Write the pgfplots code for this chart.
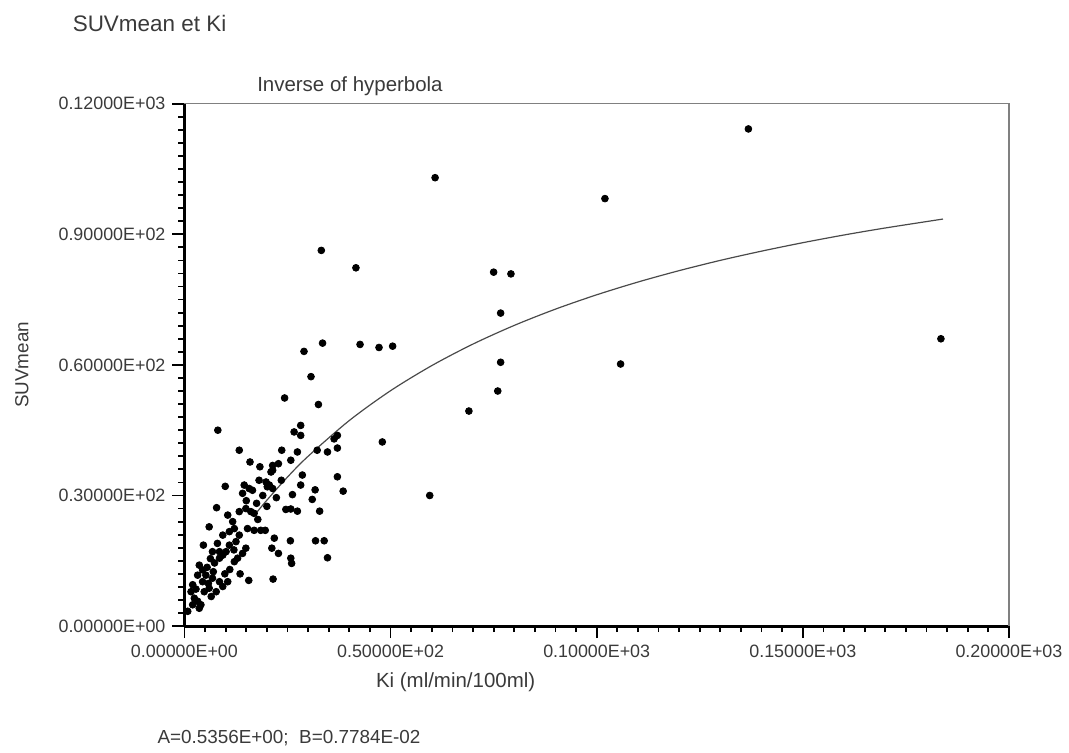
\documentclass[border=0pt]{standalone}
\usepackage{pgfplots}
\pgfplotsset{compat=1.18}
\usepackage{fontspec}
\setmainfont{Liberation Sans}
\definecolor{txt}{HTML}{3A3A3A}
\definecolor{fitline}{HTML}{4A4A4A}

\begin{document}
\begin{tikzpicture}
\begin{axis}[
  scale only axis, width=413.5bp, height=262bp,
  xmin=0, xmax=200, ymin=0, ymax=120,
  axis x line=bottom, axis y line=left,
  axis line style={-, line width=1.4bp, black},
  tick align=outside, xtick pos=left, ytick pos=left,
  major tick length=6bp, minor tick length=3bp,
  every tick/.style={black, line width=0.9bp},
  xtick={0,50,100,150,200},
  xticklabels={0.00000E+00,0.50000E+02,0.10000E+03,0.15000E+03,0.20000E+03},
  ytick={0,30,60,90,120},
  yticklabels={0.00000E+00,0.30000E+02,0.60000E+02,0.90000E+02,0.12000E+03},
  minor x tick num=9, minor y tick num=9,
  ticklabel style={font=\fontsize{9}{10}\selectfont, text=txt},
  xlabel={Ki (ml/min/100ml)},
  ylabel={SUVmean},
  xlabel style={font=\fontsize{10.3}{12}\selectfont, text=txt, at={(rel axis cs:0,0)}, anchor=center, xshift=136bp, yshift=-28bp},
  ylabel style={font=\fontsize{9.5}{11}\selectfont, text=txt, at={([xshift=-81.5bp]rel axis cs:0,0.5)}, anchor=center},
  clip=false,
]
% fitted curve (inverse of hyperbola)
\addplot[fitline, line width=0.6bp, smooth] coordinates {
  (17,25.5) (20,28.93) (25,34.24) (30,39.01) (40,47.23) (50,54.07)
  (60,59.84) (70,64.79) (80,69.07) (90,72.81) (100,76.10) (110,79.03)
  (120,81.65) (130,84.01) (140,86.13) (150,88.07) (160,89.84)
  (170,91.45) (184,93.50)
};
% measured points
\addplot[only marks, mark=*, mark size=1.7bp, black] coordinates {
  (136.8,114.2) (60.8,103.0) (102.0,98.2) (33.2,86.3) (41.6,82.3)
  (75.0,81.3) (79.2,80.9) (76.7,71.9) (76.7,60.6) (76.0,54.0)
  (105.8,60.2) (183.5,66.0) (69.0,49.4) (59.5,30.0) (33.5,65.0)
  (29.0,63.1) (42.6,64.7) (47.2,64.0) (50.5,64.3) (30.7,57.3)
  (32.5,50.9) (48.0,42.3) (24.3,52.4) (8.1,45.0)
  (26.6,44.6) (28.2,46.1) (28.2,43.8) (37.1,43.8) (36.3,43.0)
  (37.1,40.9) (32.2,40.4) (34.7,40.0) (27.4,40.0) (25.8,38.1)
  (23.6,40.4) (13.3,40.4) (28.6,34.7) (37.1,34.3) (28.2,32.4)
  (31.7,31.3) (38.5,31.0) (26.2,30.2) (31.0,29.1) (25.8,26.9)
  (27.4,26.4) (32.8,26.4) (24.6,26.8) (25.7,19.6) (31.8,19.6)
  (33.9,19.6) (34.7,15.7) (25.8,15.6) (26.0,14.4) (21.8,20.2)
  (22.8,16.7) (21.2,17.9) (21.5,10.8) (15.6,10.5)
  (15.9,37.7) (18.3,36.6) (21.4,36.9) (21.4,35.8) (22.8,37.3)
  (21.0,35.4) (9.9,32.1) (14.5,32.4) (15.7,31.6) (16.5,31.2)
  (14.1,30.5) (18.1,33.5) (19.8,33.1) (20.6,32.4) (21.4,31.6)
  (20.1,32.0) (22.3,29.5) (17.5,28.2) (7.8,27.2) (13.3,26.3)
  (14.9,27.0) (16.1,26.3) (16.9,25.9) (11.7,24.0) (12.1,22.4)
  (10.9,21.7) (9.3,20.9) (6.0,22.8) (15.3,22.4) (16.9,22.0)
  (18.5,22.0) (19.6,22.0) (13.3,20.9) (12.5,19.4) (10.9,18.6)
  (10.1,17.1) (4.6,18.6) (8.5,17.1) (6.8,17.1) (14.9,17.9)
  (14.1,16.7) (12.9,15.6) (12.1,14.8) (9.3,16.3) (8.5,15.6)
  (7.3,14.5) (3.6,14.0) (4.4,12.9) (5.2,11.7) (3.2,11.7)
  (6.8,11.0) (8.5,10.2) (9.3,9.1) (10.5,10.2) (6.0,8.7)
  (7.7,7.9) (6.5,6.8) (2.0,9.5) (1.6,7.9) (2.4,6.4)
  (3.2,5.7) (3.6,4.1) (2.0,4.9) (0.8,3.4) (4.4,10.2)
  (4.8,7.9) (4.0,4.9) (5.5,13.5) (7.0,12.5) (11.0,13.0)
  (13.5,12.0) (2.8,8.5) (5.8,9.8) (9.8,12.0) (12.0,17.5)
  (17.8,24.5) (20.0,27.5) (23.5,33.5) (19.0,30.0) (10.5,25.5)
  (15.0,28.8) (8.0,19.0) (6.3,15.5)
};
% thin frame on top and right
\draw[gray, line width=0.6bp] (rel axis cs:0,1) -- (rel axis cs:1,1) -- (rel axis cs:1,0);
\node[anchor=west, font=\fontsize{10.3}{12}\selectfont, text=txt] at ([xshift=33bp, yshift=9bp]rel axis cs:0,1) {Inverse of hyperbola};
\node[anchor=west, font=\fontsize{11.3}{13}\selectfont, text=txt] at ([xshift=-59.5bp, yshift=40bp]rel axis cs:0,1) {SUVmean et Ki};
\node[anchor=west, font=\fontsize{9.5}{11}\selectfont, text=txt] at ([xshift=-17bp, yshift=-56bp]rel axis cs:0,0) {A=0.5356E+00;\ \ B=0.7784E-02};
\coordinate (bl) at ([xshift=-92.5bp, yshift=-60.5bp]rel axis cs:0,0);
\coordinate (tr) at ([xshift=28.5bp, yshift=52bp]rel axis cs:1,1);
\end{axis}
\path (bl) rectangle (tr);
\end{tikzpicture}
\end{document}
